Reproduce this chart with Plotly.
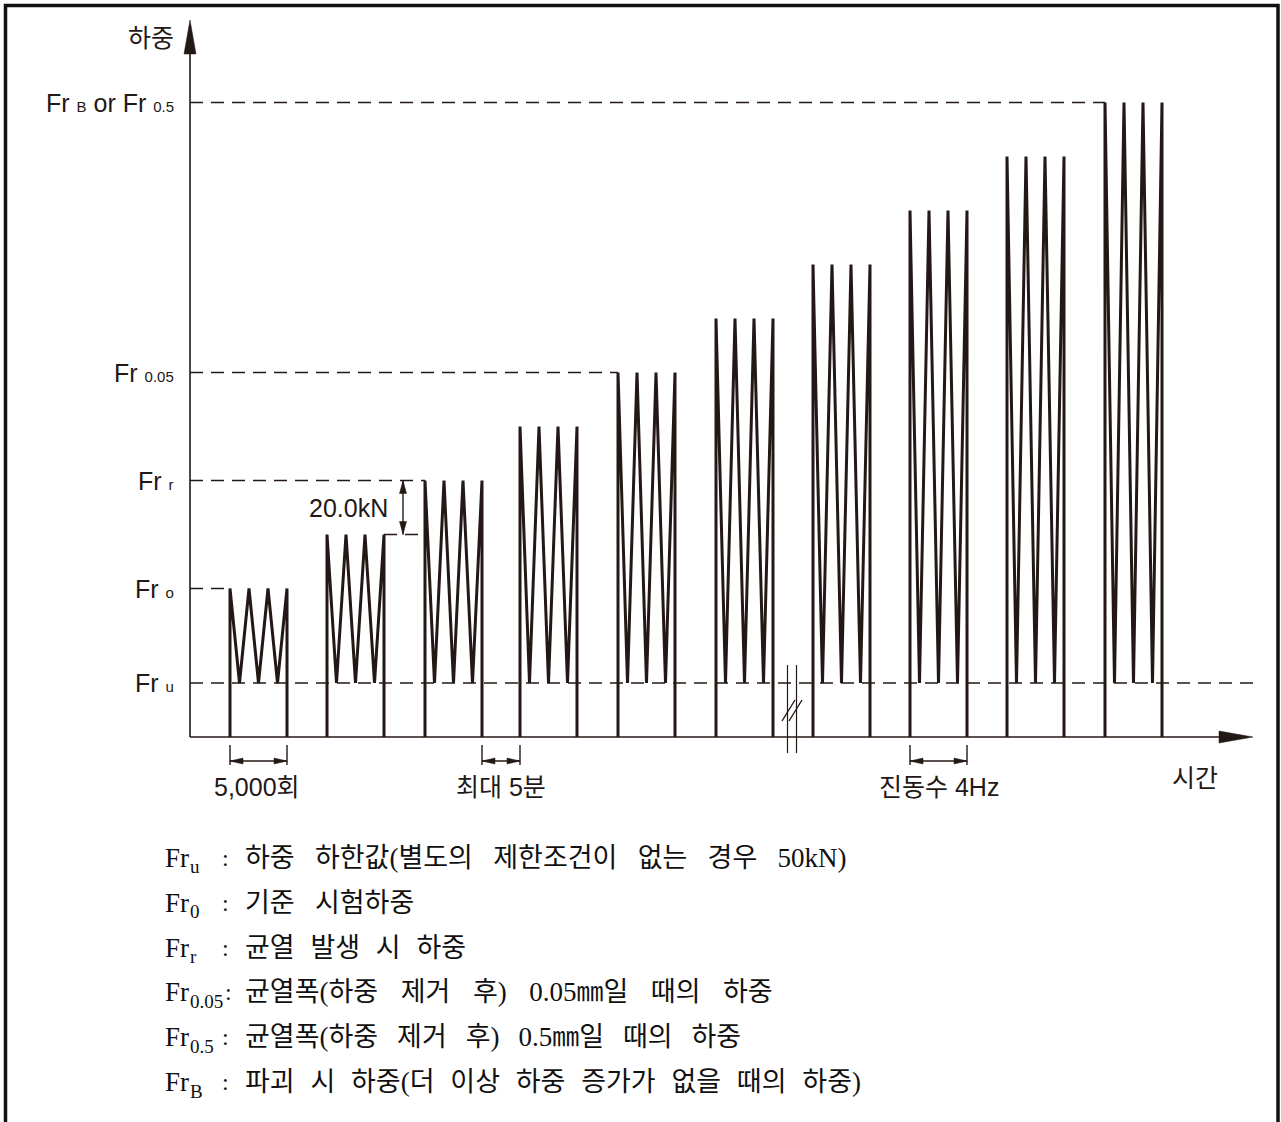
import plotly.graph_objects as go

# ---- load levels (kN) ----
FR_U = 50        # lower load limit
FR_0 = 85        # reference test load
FR_R = 125       # load at first crack
FR_005 = 165     # crack width 0.05 mm
FR_B = 265       # failure load (or Fr0.5)
LOAD_STEP = 20   # increment between stages
BASE = 30        # load level drawn on the time axis

# ---- loading stages ----
stage_peak = [85, 105, 125, 145, 165, 185, 205, 225, 245, 265]
stage_start = [40, 137, 235, 330, 428, 526, 623, 720, 817, 915]
stage_span = 57          # 5,000 cycles per stage
cycles_per_stage = 3
break_time = 602         # time-axis break

level_ticks = [FR_U, FR_0, FR_R, FR_005, FR_B]
level_labels = ["u", "o", "r", "0.05", None]

legend_sub = ["u", "0", "r", "0.05", "0.5", "B"]
legend_text = [
    "하중 하한값(별도의 제한조건이 없는 경우 50kN)",
    "기준 시험하중",
    "균열 발생 시 하중",
    "균열폭(하중 제거 후) 0.05㎜일 때의 하중",
    "균열폭(하중 제거 후) 0.5㎜일 때의 하중",
    "파괴 시 하중(더 이상 하중 증가가 없을 때의 하중)",
]

# ---- canvas / scale ----
W, H = 1281, 1122
ORIGIN_X, ORIGIN_Y = 190, 737       # screen position of the axes origin
PX_PER_KN = 54 / LOAD_STEP          # one load step is 54 px tall
INK = "#231815"
SANS = "Liberation Sans, Noto Sans CJK KR, sans-serif"
SERIF = "Liberation Serif, Noto Sans CJK KR, serif"

x_range = [-ORIGIN_X, W - ORIGIN_X]
y_range = [BASE - (H - ORIGIN_Y) / PX_PER_KN, BASE + ORIGIN_Y / PX_PER_KN]


def dk(px):
    """pixel distance -> load distance"""
    return px / PX_PER_KN


def py(px_from_top):
    """paper y for a row measured from the top of the page"""
    return 1 - px_from_top / H


# ---- cyclic load path ----
xs, ys = [], []
period = stage_span / cycles_per_stage
for s, peak in zip(stage_start, stage_peak):
    xs += [s, s]
    ys += [BASE, peak]
    for k in range(cycles_per_stage):
        xs += [s + period * k + period / 2, s + period * (k + 1)]
        ys += [FR_U, peak]
    xs += [s + stage_span, None]
    ys += [BASE, None]

fig = go.Figure()
fig.add_trace(go.Scatter(x=xs, y=ys, mode="lines",
                         line=dict(color=INK, width=3), hoverinfo="skip",
                         showlegend=False))

shapes = []
dash = "13px,8px"

# dashed reference levels
shapes.append(dict(type="line", x0=0, x1=1065, y0=FR_U, y1=FR_U,
                   line=dict(color=INK, width=1.5, dash=dash)))
for lvl, stop in [(FR_0, stage_start[0]), (FR_R, stage_start[2]),
                  (FR_005, stage_start[4]), (FR_B, stage_start[9])]:
    shapes.append(dict(type="line", x0=0, x1=stop, y0=lvl, y1=lvl,
                       line=dict(color=INK, width=1.5, dash=dash)))
# extension line for the 20 kN dimension
shapes.append(dict(type="line", x0=stage_start[1] + stage_span, x1=stage_start[2],
                   y0=stage_peak[1], y1=stage_peak[1],
                   line=dict(color=INK, width=1.5, dash=dash)))

# axes with arrow heads
y_tip = y_range[1] - dk(20)
x_tip = 1063
shapes.append(dict(type="line", x0=0, x1=0, y0=BASE, y1=y_tip - dk(10),
                   line=dict(color=INK, width=1.6)))
shapes.append(dict(type="line", x0=0, x1=x_tip - 10, y0=BASE, y1=BASE,
                   line=dict(color=INK, width=1.6)))
shapes.append(dict(type="path",
                   path=f"M 0 {y_tip} L 6 {y_tip - dk(34)} L -6 {y_tip - dk(34)} Z",
                   fillcolor=INK, line=dict(color=INK, width=0.5)))
shapes.append(dict(type="path",
                   path=f"M {x_tip} {BASE} L {x_tip - 34} {BASE + dk(6)} L {x_tip - 34} {BASE - dk(6)} Z",
                   fillcolor=INK, line=dict(color=INK, width=0.5)))

# vertical dimension: one load step
dim_x = stage_start[2] - 22
lo, hi = stage_peak[1], stage_peak[2]
shapes.append(dict(type="line", x0=dim_x, x1=dim_x, y0=lo, y1=hi,
                   line=dict(color=INK, width=1.4)))
for tip, sgn in [(hi, -1), (lo, 1)]:
    b = tip + sgn * dk(13)
    shapes.append(dict(type="path",
                       path=f"M {dim_x} {tip} L {dim_x + 3.5} {b} L {dim_x - 3.5} {b} Z",
                       fillcolor=INK, line=dict(color=INK, width=0.5)))


# horizontal dimensions below the time axis
def hdim(xa, xb):
    t0, t1 = BASE - dk(8), BASE - dk(28)
    ya = BASE - dk(24)
    out = [dict(type="line", x0=xa, x1=xa, y0=t0, y1=t1, line=dict(color=INK, width=1.4)),
           dict(type="line", x0=xb, x1=xb, y0=t0, y1=t1, line=dict(color=INK, width=1.4)),
           dict(type="line", x0=xa, x1=xb, y0=ya, y1=ya, line=dict(color=INK, width=1.4))]
    for tip, sgn in [(xa, 1), (xb, -1)]:
        b = tip + sgn * 13
        out.append(dict(type="path",
                        path=f"M {tip} {ya} L {b} {ya + dk(3)} L {b} {ya - dk(3)} Z",
                        fillcolor=INK, line=dict(color=INK, width=0.5)))
    return out


shapes += hdim(stage_start[0], stage_start[0] + stage_span)
shapes += hdim(stage_start[2] + stage_span, stage_start[3])
shapes += hdim(stage_start[7], stage_start[7] + stage_span)

# axis break mark
for dx in (-4.5, 4.5):
    shapes.append(dict(type="line", x0=break_time + dx, x1=break_time + dx,
                       y0=BASE - dk(16), y1=BASE + dk(72),
                       line=dict(color=INK, width=1.2)))
for off in (-4, 3):
    shapes.append(dict(type="line", x0=break_time + off - 6, x1=break_time + off + 7,
                       y0=BASE + dk(16), y1=BASE + dk(37),
                       line=dict(color=INK, width=1.4)))

# page frame
shapes.append(dict(type="rect", xref="paper", yref="paper",
                   x0=5.5 / W, x1=1 - 3 / W, y0=-0.01, y1=py(5.5),
                   line=dict(color="#111111", width=3.5)))

fig.update_layout(shapes=shapes)

# ---- chart labels ----
ann = []
small = "<span style='font-size:15px'>{}</span>"
for lvl, sub in zip(level_ticks, level_labels):
    if sub is None:
        txt = "Fr " + small.format("B") + " or Fr " + small.format("0.5")
    else:
        txt = "Fr " + small.format(sub)
    ann.append(dict(x=0, y=lvl, xanchor="right", yanchor="middle", xshift=-14,
                    text=txt, showarrow=False, font=dict(family=SANS, size=25, color=INK)))

ann.append(dict(x=0, y=y_range[1] - dk(38), xanchor="right", yanchor="middle", xshift=-14,
                text="하중", showarrow=False, font=dict(family=SANS, size=25, color=INK)))
ann.append(dict(x=1005, y=BASE - dk(41), xanchor="center", yanchor="middle",
                text="시간", showarrow=False, font=dict(family=SANS, size=25, color=INK)))
ann.append(dict(x=dim_x - 13, y=(lo + hi) / 2, xanchor="right", yanchor="middle",
                text="20.0kN", showarrow=False, font=dict(family=SANS, size=25, color=INK)))
for xc, txt in [(stage_start[0] + stage_span / 2 - 2, "5,000회"),
                ((stage_start[2] + stage_span + stage_start[3]) / 2, "최대 5분"),
                (stage_start[7] + stage_span / 2, "진동수 4Hz")]:
    ann.append(dict(x=xc, y=BASE - dk(50), xanchor="center", yanchor="middle",
                    text=txt, showarrow=False, font=dict(family=SANS, size=25, color=INK)))

# ---- symbol legend below the chart ----
SERIF_W = {".": 0.25, "u": 0.5, "r": 0.333, "B": 0.667}   # advance widths (em)
LEG_X, LEG_Y0, LEG_DY = 163, 858, 44.8
FR_SIZE, SUB_SIZE, BODY_SIZE = 27, 19, 27
word_gap = ["\u2002\u2005", "\u2002\u2005", "\u2002\u200a",
            "\u2002\u2004", "\u2002\u2009", "\u2002\u200a"]
LEG_INK = "#111111"

for i, (sub, body) in enumerate(zip(legend_sub, legend_text)):
    yc = py(LEG_Y0 + LEG_DY * i)
    ann.append(dict(xref="paper", yref="paper", x=LEG_X / W, y=yc, xanchor="left",
                    yanchor="middle", text="Fr", showarrow=False,
                    font=dict(family=SERIF, size=FR_SIZE, color=LEG_INK)))
    sub_x = LEG_X + 25
    ann.append(dict(xref="paper", yref="paper", x=sub_x / W, y=yc, xanchor="left",
                    yanchor="middle", yshift=-9, text=sub, showarrow=False,
                    font=dict(family=SERIF, size=SUB_SIZE, color=LEG_INK)))
    sub_w = sum(SERIF_W.get(c, 0.5) for c in sub) * SUB_SIZE
    colon_x = max(LEG_X + 57, sub_x + sub_w + 2)
    ann.append(dict(xref="paper", yref="paper", x=colon_x / W, y=yc, xanchor="left",
                    yanchor="middle", text=":", showarrow=False,
                    font=dict(family=SERIF, size=24, color=LEG_INK)))
    ann.append(dict(xref="paper", yref="paper", x=(LEG_X + 80) / W, y=yc, xanchor="left",
                    yanchor="middle", text=body.replace(" ", word_gap[i]),
                    showarrow=False, font=dict(family=SERIF, size=BODY_SIZE, color=LEG_INK)))

fig.update_layout(annotations=ann)

fig.update_layout(
    width=W, height=H,
    margin=dict(l=0, r=0, t=0, b=0, pad=0),
    paper_bgcolor="white", plot_bgcolor="white",
    xaxis=dict(range=x_range, visible=False, fixedrange=True),
    yaxis=dict(range=y_range, visible=False, fixedrange=True),
    showlegend=False,
)

fig.write_html("out.html")
